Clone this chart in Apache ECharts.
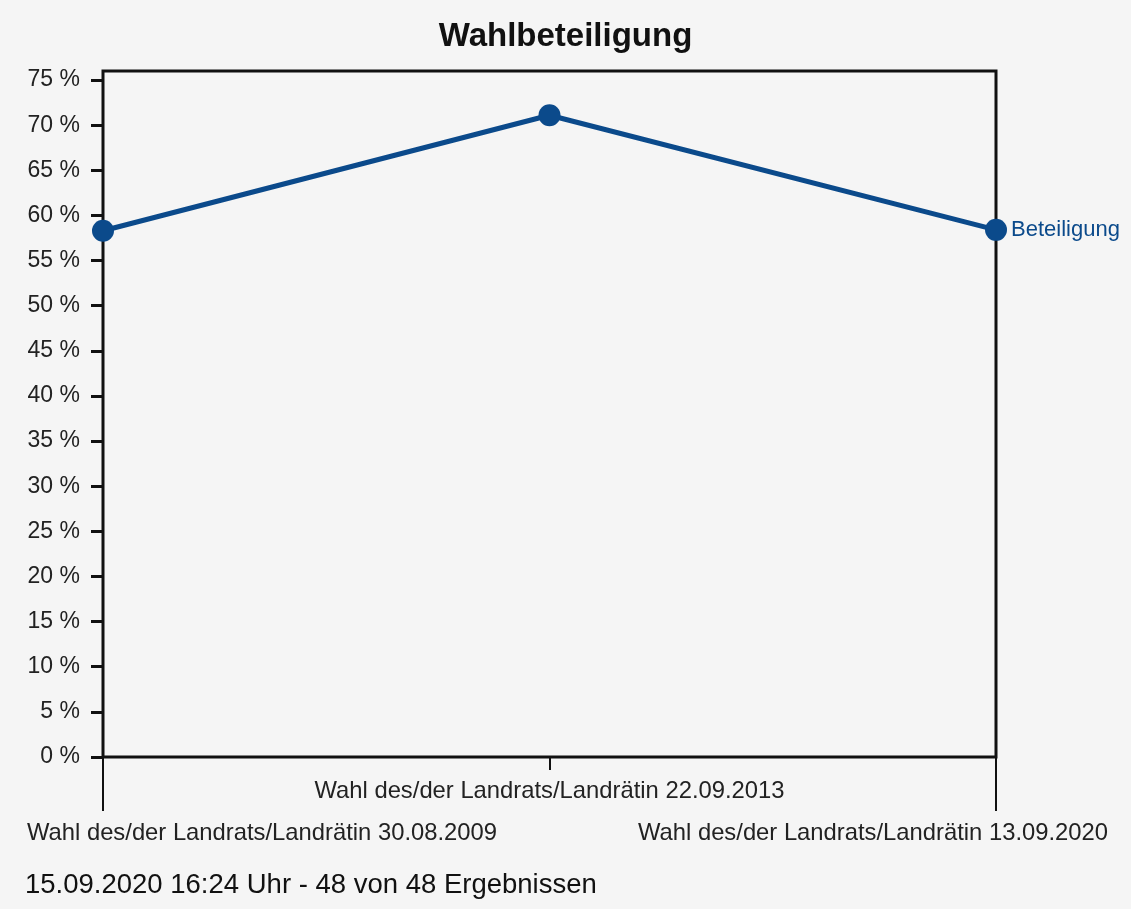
<!DOCTYPE html>
<html>
<head>
<meta charset="utf-8">
<script src="https://cdn.jsdelivr.net/npm/echarts@6/dist/echarts.min.js"></script>
<style>
html,body{margin:0;padding:0;background:#f5f5f5;}
#chart{width:1131px;height:909px;}
</style>
</head>
<body>
<div id="chart"></div>
<script>
const categories = [
  'Wahl des/der Landrats/Landrätin 30.08.2009',
  'Wahl des/der Landrats/Landrätin 22.09.2013',
  'Wahl des/der Landrats/Landrätin 13.09.2020'
];
const turnout = [58.3, 71.1, 58.4];
const yTicks = [0, 5, 10, 15, 20, 25, 30, 35, 40, 45, 50, 55, 60, 65, 70, 75];
const seriesName = 'Beteiligung';
const titleText = 'Wahlbeteiligung';
const footText = '15.09.2020 16:24 Uhr - 48 von 48 Ergebnissen';

const FONT = '"Liberation Sans", Arial, Helvetica, sans-serif';
const BLUE = '#0b4a8b';
const XF = 23.8;

const chart = echarts.init(document.getElementById('chart'), null, {renderer: 'canvas'});
chart.setOption({
  backgroundColor: '#f5f5f5',
  animation: false,
  title: [
    {text: titleText, left: 'center', top: 15,
     textStyle: {fontFamily: FONT, fontSize: 33, fontWeight: 'bold', color: '#111'}},
    {text: footText, left: 20, top: 866,
     textStyle: {fontFamily: FONT, fontSize: 27.5, fontWeight: 'normal', color: '#111'}}
  ],
  grid: {left: 103, right: 135, top: 71, bottom: 152, show: true,
         borderColor: '#111', borderWidth: 3, backgroundColor: 'transparent'},
  xAxis: [
    {
      type: 'category', data: categories, boundaryGap: false,
      axisLine: {show: false},
      axisTick: {show: true, length: 54, lineStyle: {color: '#111', width: 2},
                 interval: function (i) { return i !== 1; }},
      splitLine: {show: false},
      axisLabel: {
        interval: 0, margin: 22, fontFamily: FONT, fontSize: XF, color: '#222',
        formatter: function (v, i) {
          if (i === 0) return '{l|' + v + '}';
          if (i === 2) return '{r|' + v + '}';
          return '{m|' + v + '}';
        },
        rich: {
          l: {fontFamily: FONT, fontSize: XF, color: '#222', padding: [42, 0, 0, 318]},
          r: {fontFamily: FONT, fontSize: XF, color: '#222', padding: [42, 246, 0, 0]},
          m: {fontFamily: FONT, fontSize: XF, color: '#222', padding: [0, 0, 0, 0]}
        }
      }
    },
    {
      type: 'category', data: categories, boundaryGap: false, position: 'bottom',
      axisLine: {show: false},
      axisTick: {show: true, length: 13, lineStyle: {color: '#111', width: 2},
                 interval: function (i) { return i === 1; }},
      axisLabel: {show: false},
      splitLine: {show: false}
    }
  ],
  yAxis: {
    type: 'value', min: 0, max: 76,
    axisLine: {show: false},
    splitLine: {show: false},
    axisTick: {show: true, length: 12, lineStyle: {color: '#111', width: 3},
               customValues: yTicks},
    axisLabel: {fontFamily: FONT, fontSize: 23, color: '#222', margin: 23,
                customValues: yTicks,
                formatter: function (v) { return v + ' %'; }}
  },
  series: [{
    name: seriesName, type: 'line', data: turnout,
    symbol: 'circle', symbolSize: 22,
    lineStyle: {color: BLUE, width: 5},
    itemStyle: {color: BLUE},
    endLabel: {show: true, formatter: seriesName, color: BLUE,
               fontFamily: FONT, fontSize: 22, distance: 15}
  }]
});
</script>
</body>
</html>
